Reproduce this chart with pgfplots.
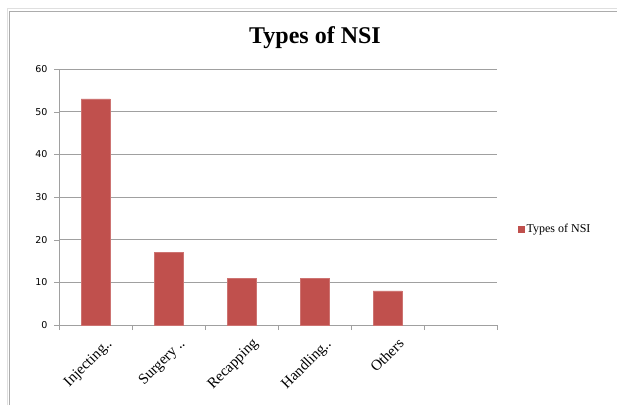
\documentclass[border=0pt]{standalone}
\usepackage{pgfplots}
\pgfplotsset{compat=1.18}
\usepackage{fontspec}
\setmainfont{Liberation Serif}
\newfontfamily\tickfont{DejaVu Sans}
\definecolor{barred}{HTML}{C0504D}
\definecolor{gridgray}{HTML}{A0A0A0}
\begin{document}
\begin{tikzpicture}[x=1pt,y=1pt]
\path[use as bounding box] (0,0) rectangle (617,405);
\draw[gray!25, line width=0.8pt] (7.5,0) -- (7.5,396.5) -- (617,396.5);
\draw[gray!65, line width=0.9pt] (9.8,0) -- (9.8,394) -- (617,394);
\node[font=\bfseries\fontsize{24}{28}\selectfont] at (315,367) {Types of NSI};
\begin{axis}[
  at={(59pt,80pt)}, anchor=south west,
  scale only axis, width=438pt, height=256pt,
  xmin=-0.5, xmax=5.5, ymin=0, ymax=60,
  ytick={0,10,...,60},
  xtick={0,1,2,3,4},
  xticklabels={Injecting..,Surgery ..,Recapping,Handling..,Others},
  x tick label style={rotate=45, anchor=north east, font=\fontsize{15}{17}\selectfont, inner sep=0pt, yshift=-12pt, xshift=2pt},
  y tick label style={font=\tickfont\fontsize{9.5}{11}\selectfont, xshift=-3pt},
  /pgf/number format/assume math mode=true,
  major x tick style={draw=none},
  minor xtick={-0.5,0.5,...,5.5},
  minor x tick style={gridgray},
  minor tick length=5pt,
  major tick length=5pt,
  y tick style={gridgray},
  tick align=outside,
  axis x line*=bottom, axis y line*=left,
  axis line style={gridgray},
  ymajorgrids, grid style={gridgray, line width=0.6pt},
  ybar, bar width=29pt,
  legend style={at={(459pt,96pt)}, anchor=west, draw=none, fill=none, font=\fontsize{12}{14}\selectfont, legend cell align=left, inner sep=0pt},
  legend image code/.code={\fill[barred] (0pt,-3pt) rectangle (6pt,3pt);},
  clip=false,
]
\addplot[fill=barred, draw=barred!80!white] coordinates {(0,53) (1,17) (2,11) (3,11) (4,8)};
\addlegendentry{Types of NSI}
\end{axis}
\end{tikzpicture}
\end{document}
